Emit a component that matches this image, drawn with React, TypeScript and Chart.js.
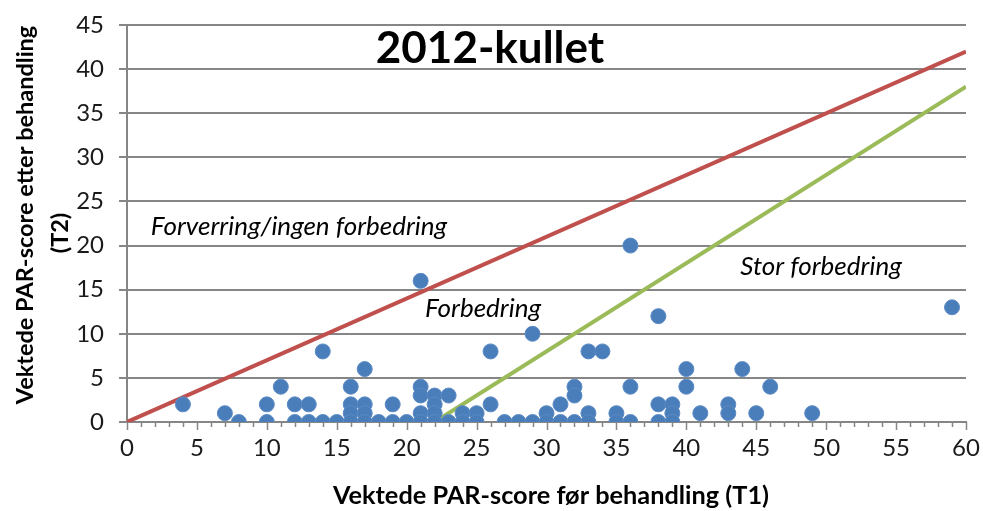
import React, { useEffect, useRef } from "react";
import { Chart, registerables } from "chart.js";

Chart.register(...registerables);

// T1 (before) and T2 (after) weighted PAR scores, one entry per patient
const scoreT1 = [
  4, 7, 8, 10, 10, 11, 12, 12, 13, 13, 14, 14, 15, 16, 16, 16, 16, 17, 17, 17, 17, 18, 19, 19, 20,
  21, 21, 21, 21, 21, 22, 22, 22, 22, 23, 23, 24, 24, 25, 25, 26, 26, 27, 28, 29, 29, 30, 30, 31, 31,
  32, 32, 32, 33, 33, 33, 34, 35, 35, 36, 36, 36, 38, 38, 38, 39, 39, 39, 40, 40, 41, 43, 43, 44, 45,
  46, 49, 59,
];
const scoreT2 = [
  2, 1, 0, 2, 0, 4, 2, 0, 2, 0, 8, 0, 0, 4, 2, 1, 0, 6, 2, 1, 0, 0, 2, 0, 0,
  16, 4, 3, 1, 0, 3, 2, 1, 0, 3, 0, 1, 0, 1, 0, 8, 2, 0, 0, 10, 0, 1, 0, 2, 0,
  4, 3, 0, 8, 1, 0, 8, 1, 0, 20, 4, 0, 12, 2, 0, 2, 1, 0, 6, 4, 1, 2, 1, 6, 1,
  4, 1, 13,
];

// Reference lines
const redLineX = [0, 60];
const redLineY = [0, 42];
const greenLineX = [22, 60];
const greenLineY = [0, 38];

const xTicks = [0, 5, 10, 15, 20, 25, 30, 35, 40, 45, 50, 55, 60];
const yTicks = [0, 5, 10, 15, 20, 25, 30, 35, 40, 45];

const chartTitle = "2012-kullet";
const xTitle = "Vektede PAR-score før behandling (T1)";
const yTitleLines = ["Vektede PAR-score etter behandling", "(T2)"];
const regionLabels = ["Forverring/ingen forbedring", "Forbedring", "Stor forbedring"];

const FONT = "Lato, 'Open Sans', sans-serif";

const textPlugin = {
  id: "textPlugin",
  afterDraw(chart: any) {
    const { ctx, scales } = chart;
    const x = scales.x;
    const y = scales.y;
    ctx.save();
    // minor / major ticks on x axis
    ctx.strokeStyle = "#868686";
    ctx.lineWidth = 1.5;
    const bottom = y.getPixelForValue(0);
    for (let v = xTicks[0]; v <= xTicks[xTicks.length - 1]; v++) {
      const px = Math.round(x.getPixelForValue(v)) + 0.5;
      const len = v % 5 === 0 ? 8 : 5;
      ctx.beginPath();
      ctx.moveTo(px, bottom);
      ctx.lineTo(px, bottom + len);
      ctx.stroke();
    }
    ctx.fillStyle = "#000";
    ctx.textAlign = "center";
    ctx.textBaseline = "alphabetic";
    // main title
    ctx.font = `bold 44px ${FONT}`;
    ctx.fillText(chartTitle, 490, 63);
    // region labels
    ctx.font = `italic 26px ${FONT}`;
    ctx.fillText(regionLabels[0], 299, 235);
    ctx.fillText(regionLabels[1], 483, 317);
    ctx.fillText(regionLabels[2], 821, 275);
    // axis titles
    ctx.font = `bold 25.3px ${FONT}`;
    ctx.fillText(xTitle, 551, 504);
    ctx.font = `bold 23.5px ${FONT}`;
    ctx.save();
    ctx.translate(33, 215);
    ctx.rotate(-Math.PI / 2);
    ctx.fillText(yTitleLines[0], 0, 0);
    ctx.restore();
    ctx.save();
    ctx.translate(68, 233);
    ctx.rotate(-Math.PI / 2);
    ctx.fillText(yTitleLines[1], 0, 0);
    ctx.restore();
    ctx.restore();
  },
};

export default function App() {
  const ref = useRef<HTMLCanvasElement>(null);
  useEffect(() => {
    document.body.style.margin = "0";
    const points = scoreT1.map((v, i) => ({ x: v, y: scoreT2[i] }));
    const red = redLineX.map((v, i) => ({ x: v, y: redLineY[i] }));
    const green = greenLineX.map((v, i) => ({ x: v, y: greenLineY[i] }));
    const chart = new Chart(ref.current!, {
      type: "scatter",
      data: {
        datasets: [
          {
            data: points,
            backgroundColor: "#4a7ebb",
            borderColor: "#5b8ac4",
            borderWidth: 1,
            pointRadius: 7.5,
            order: 0,
          },
          {
            data: red,
            showLine: true,
            borderColor: "#c0504d",
            borderWidth: 4,
            pointRadius: 0,
            order: 1,
          } as any,
          {
            data: green,
            showLine: true,
            borderColor: "#9bbb59",
            borderWidth: 4,
            pointRadius: 0,
            order: 2,
          } as any,
        ],
      },
      plugins: [textPlugin],
      options: {
        animation: false,
        responsive: false,
        maintainAspectRatio: false,
        layout: { padding: { top: 25, right: 17, left: 0, bottom: 0 } },
        plugins: { legend: { display: false }, tooltip: { enabled: false }, title: { display: false } },
        scales: {
          x: {
            type: "linear",
            min: 0,
            max: 60,
            afterFit: (s: any) => {
              s.height = 89;
              s.paddingLeft = 0;
              s.paddingRight = 0;
            },
            afterBuildTicks: (s: any) => {
              s.ticks = xTicks.map((v) => ({ value: v }));
            },
            ticks: { font: { family: FONT, size: 24 }, color: "#1a1a1a", padding: 12, maxRotation: 0 },
            grid: { drawOnChartArea: false, drawTicks: false },
            border: { color: "#868686", width: 2 },
          },
          y: {
            type: "linear",
            min: 0,
            max: 45,
            afterFit: (s: any) => {
              s.width = 127;
              s.paddingTop = 0;
              s.paddingBottom = 0;
            },
            afterBuildTicks: (s: any) => {
              s.ticks = yTicks.map((v) => ({ value: v }));
            },
            ticks: { font: { family: FONT, size: 24 }, color: "#1a1a1a", padding: 15 },
            grid: { color: "#868686", lineWidth: 2, tickLength: 8 },
            border: { color: "#868686", width: 2 },
          },
        },
      },
    });
    return () => chart.destroy();
  }, []);
  return <canvas ref={ref} width={983} height={511} style={{ display: "block" }} />;
}
